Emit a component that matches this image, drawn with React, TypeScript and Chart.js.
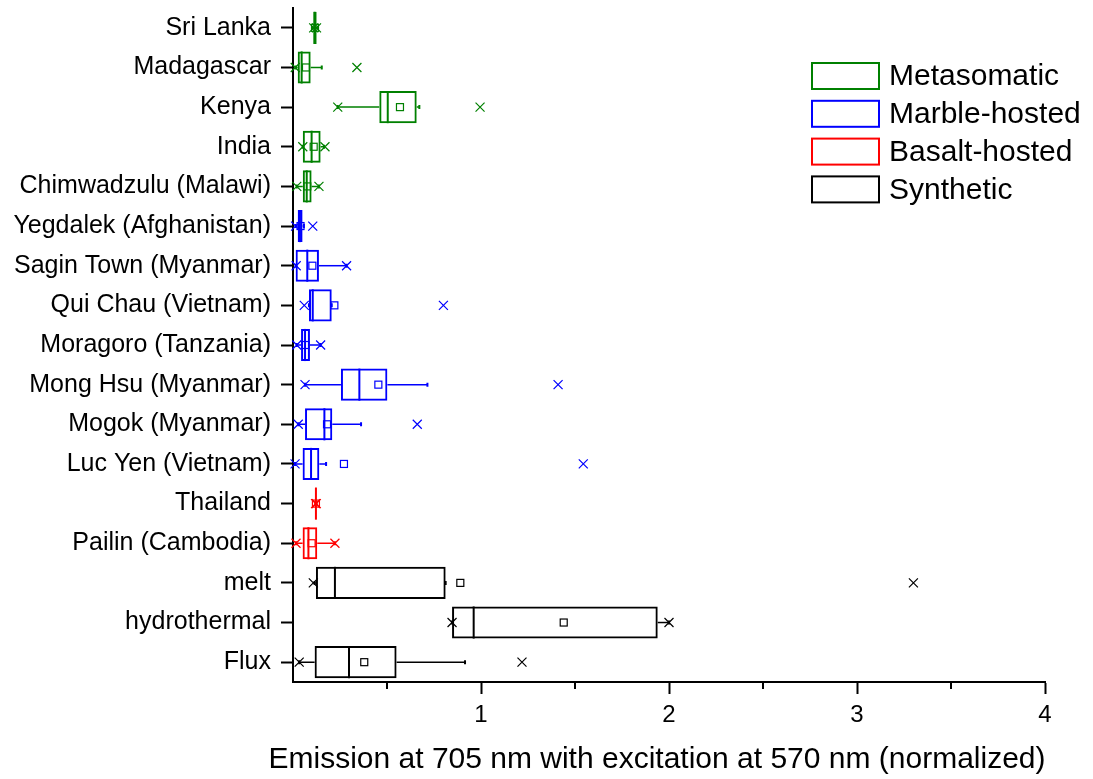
import React, { useEffect, useRef } from 'react';
import { Chart, registerables } from 'chart.js';

Chart.register(...registerables);

const FONT = "'Liberation Sans', Arial, Helvetica, sans-serif";

const categories = [
  'Sri Lanka',
  'Madagascar',
  'Kenya',
  'India',
  'Chimwadzulu (Malawi)',
  'Yegdalek (Afghanistan)',
  'Sagin Town (Myanmar)',
  'Qui Chau (Vietnam)',
  'Moragoro (Tanzania)',
  'Mong Hsu (Myanmar)',
  'Mogok (Myanmar)',
  'Luc Yen (Vietnam)',
  'Thailand',
  'Pailin (Cambodia)',
  'melt',
  'hydrothermal',
  'Flux',
];

const groups = ['Metasomatic', 'Marble-hosted', 'Basalt-hosted', 'Synthetic'];
const groupColors = ['#008000', '#0000ff', '#ff0000', '#000000'];
const groupOf = [0, 0, 0, 0, 0, 1, 1, 1, 1, 1, 1, 1, 2, 2, 3, 3, 3];

const q1 = [0.108, 0.025, 0.459, 0.052, 0.052, 0.025, 0.014, 0.085, 0.043, 0.255, 0.064, 0.051, 0.120, 0.051, 0.122, 0.846, 0.115];
const median = [0.115, 0.046, 0.504, 0.099, 0.073, 0.037, 0.076, 0.105, 0.064, 0.353, 0.167, 0.096, 0.122, 0.082, 0.223, 0.961, 0.298];
const q3 = [0.126, 0.094, 0.658, 0.147, 0.099, 0.051, 0.138, 0.206, 0.090, 0.502, 0.209, 0.140, 0.124, 0.129, 0.812, 1.940, 0.551];
const mean = [0.117, 0.069, 0.569, 0.110, 0.076, 0.040, 0.103, 0.220, 0.066, 0.454, 0.181, 0.271, 0.122, 0.099, 0.890, 1.440, 0.379];
const whiskerLow = [0.105, 0.014, 0.238, 0.052, 0.020, 0.014, 0.014, 0.085, 0.020, 0.064, 0.028, 0.011, 0.118, 0.016, 0.115, 0.846, 0.033];
const whiskerHigh = [0.130, 0.153, 0.672, 0.165, 0.138, 0.058, 0.285, 0.206, 0.147, 0.715, 0.362, 0.176, 0.126, 0.223, 0.812, 2.000, 0.915];
const minMark = [0.110, 0.012, 0.238, 0.052, 0.020, 0.014, 0.017, 0.060, 0.020, 0.064, 0.028, 0.011, 0.120, 0.016, 0.108, 0.846, 0.033];
const maxMark = [0.125, 0.340, 0.995, 0.170, 0.138, 0.105, 0.285, 0.800, 0.147, 1.410, 0.661, 1.544, 0.124, 0.223, 3.300, 2.000, 1.218];

const xMajorTicks = [0, 1, 2, 3, 4];
const xMinorTicks = [0.5, 1.5, 2.5, 3.5];
const xTitle = 'Emission at 705 nm with excitation at 570 nm (normalized)';

const boxPlotPlugin = {
  id: 'boxExtras',
  afterDatasetsDraw(chart: any) {
    const ctx = chart.ctx;
    const xs = chart.scales.x;
    const ys = chart.scales.y;
    const meta = chart.getDatasetMeta(0);
    ctx.save();
    categories.forEach((_, i) => {
      const color = groupColors[groupOf[i]];
      const y = ys.getPixelForValue(i);
      const bar = meta.data[i] as any;
      const h = bar && bar.height ? bar.height : 32;
      const xq1 = xs.getPixelForValue(q1[i]);
      const xq3 = xs.getPixelForValue(q3[i]);
      const xlo = xs.getPixelForValue(whiskerLow[i]);
      const xhi = xs.getPixelForValue(whiskerHigh[i]);
      ctx.strokeStyle = color;
      // whiskers
      ctx.lineWidth = 1.5;
      ctx.beginPath();
      if (xlo < xq1) {
        ctx.moveTo(xlo, y);
        ctx.lineTo(xq1, y);
      }
      if (xhi > xq3) {
        ctx.moveTo(xq3, y);
        ctx.lineTo(xhi, y);
      }
      ctx.stroke();
      // caps
      ctx.lineWidth = 2;
      ctx.beginPath();
      ctx.moveTo(xlo, y - 2);
      ctx.lineTo(xlo, y + 2);
      ctx.moveTo(xhi, y - 2);
      ctx.lineTo(xhi, y + 2);
      ctx.stroke();
      // median
      const xm = xs.getPixelForValue(median[i]);
      ctx.lineWidth = 2;
      ctx.beginPath();
      ctx.moveTo(xm, y - h / 2);
      ctx.lineTo(xm, y + h / 2);
      ctx.stroke();
      // mean square
      const xmean = xs.getPixelForValue(mean[i]);
      ctx.lineWidth = 1.2;
      ctx.strokeRect(xmean - 3.5, y - 3.5, 7, 7);
      // min / max crosses
      ctx.lineWidth = 1.2;
      [minMark[i], maxMark[i]].forEach((v) => {
        const xc = xs.getPixelForValue(v);
        ctx.beginPath();
        ctx.moveTo(xc - 4.5, y - 4.5);
        ctx.lineTo(xc + 4.5, y + 4.5);
        ctx.moveTo(xc + 4.5, y - 4.5);
        ctx.lineTo(xc - 4.5, y + 4.5);
        ctx.stroke();
      });
    });
    ctx.restore();
  },
  afterDraw(chart: any) {
    const ctx = chart.ctx;
    const xs = chart.scales.x;
    const area = chart.chartArea;
    ctx.save();
    // minor ticks
    ctx.strokeStyle = '#000';
    ctx.lineWidth = 2;
    ctx.beginPath();
    xMinorTicks.forEach((v) => {
      const x = xs.getPixelForValue(v);
      ctx.moveTo(x, area.bottom);
      ctx.lineTo(x, area.bottom + 7);
    });
    ctx.stroke();
    // axis title
    ctx.fillStyle = '#000';
    ctx.font = `30px ${FONT}`;
    ctx.textAlign = 'center';
    ctx.textBaseline = 'middle';
    ctx.fillText(xTitle, 657, 760);
    // legend
    ctx.textAlign = 'left';
    groups.forEach((g, k) => {
      const cy = 76 + k * 37.8;
      ctx.strokeStyle = groupColors[k];
      ctx.lineWidth = 2;
      ctx.strokeRect(812, cy - 13, 67, 26);
      ctx.fillStyle = '#000';
      ctx.fillText(g, 889, cy + 1);
    });
    ctx.restore();
  },
};

export default function App() {
  const ref = useRef<HTMLCanvasElement | null>(null);

  useEffect(() => {
    if (!ref.current) return;
    Chart.defaults.font.family = FONT;
    const chart = new Chart(ref.current, {
      type: 'bar',
      data: {
        labels: categories,
        datasets: [
          {
            data: categories.map((_, i) => [q1[i], q3[i]]) as any,
            backgroundColor: 'rgba(0,0,0,0)',
            borderColor: categories.map((_, i) => groupColors[groupOf[i]]),
            borderWidth: 2,
            borderSkipped: false,
            barPercentage: 0.81,
            categoryPercentage: 1,
          },
        ],
      },
      options: {
        indexAxis: 'y',
        animation: false,
        responsive: false,
        maintainAspectRatio: false,
        layout: { padding: { top: 8, right: 48, left: 0, bottom: 0 } },
        plugins: {
          legend: { display: false },
          tooltip: { enabled: false },
        },
        scales: {
          x: {
            type: 'linear',
            min: 0,
            max: 4,
            afterBuildTicks: (s: any) => {
              s.ticks = xMajorTicks.map((v) => ({ value: v }));
            },
            ticks: {
              color: '#000',
              font: { size: 24, family: FONT },
              padding: 7,
              maxRotation: 0,
              callback: (v: any) => (v === 0 ? '' : String(v)),
            },
            grid: {
              display: true,
              drawOnChartArea: false,
              drawTicks: true,
              tickLength: 12,
              tickWidth: 2,
              tickColor: (c: any) => (c.tick && c.tick.value === 0 ? 'rgba(0,0,0,0)' : '#000'),
            },
            border: { display: true, color: '#000', width: 2 },
            afterFit: (s: any) => {
              s.height = 97;
            },
          },
          y: {
            type: 'category',
            offset: true,
            ticks: {
              color: '#000',
              font: { size: 25, family: FONT },
              padding: 10,
            },
            grid: {
              display: true,
              offset: false,
              drawOnChartArea: false,
              drawTicks: true,
              tickLength: 12,
              tickWidth: 2,
              tickColor: '#000',
            },
            border: { display: true, color: '#000', width: 2 },
            afterFit: (s: any) => {
              s.width = 293;
              s.paddingTop = 0;
              s.paddingBottom = 0;
            },
          },
        },
      },
      plugins: [boxPlotPlugin],
    });
    return () => chart.destroy();
  }, []);

  return (
    <div style={{ position: 'fixed', left: 0, top: 0, width: 1093, height: 779, background: '#fff' }}>
      <canvas ref={ref} width={1093} height={779} style={{ display: 'block' }} />
    </div>
  );
}
